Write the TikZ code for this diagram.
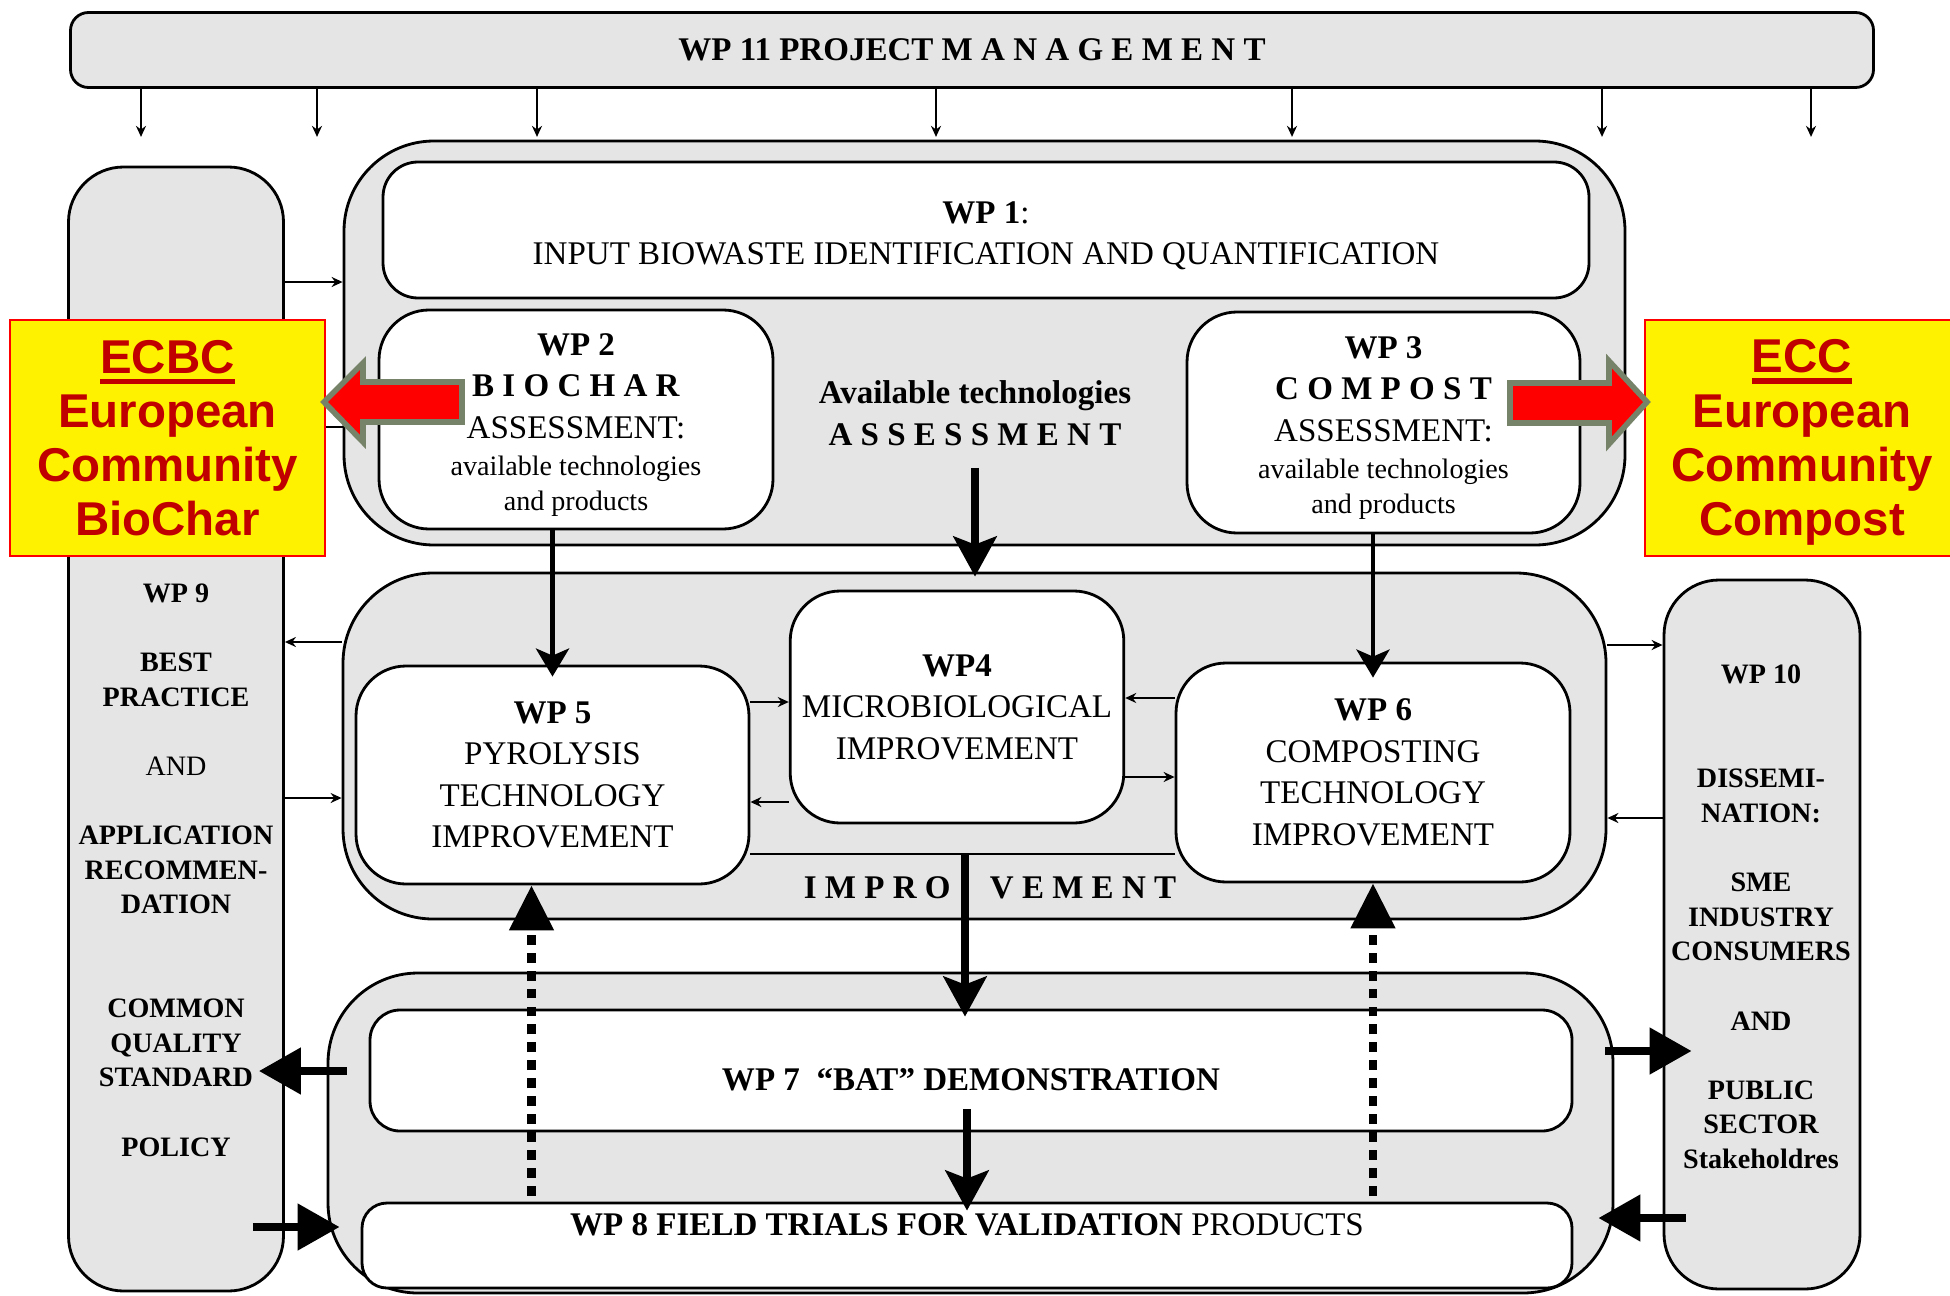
\documentclass[tikz,border=0pt]{standalone}
\usepackage{fontspec}
\setmainfont{Liberation Serif}
\newfontfamily\arialfont{Liberation Sans}
\usepackage{tikz}
\usetikzlibrary{arrows.meta}

\definecolor{boxgray}{gray}{0.9}
\definecolor{ecred}{RGB}{192,0,0}
\definecolor{arrowrim}{RGB}{118,131,104}

\newcommand{\thickul}[1]{\leavevmode\vtop{\hbox{#1}\kern1.4pt\hrule height 1.5pt}}
\newcommand{\topgap}[1]{\rule{0pt}{#1}}

\begin{document}
\begin{tikzpicture}[x=0.1mm, y=-0.1mm, font=\fontsize{9.4}{11.8}\selectfont]
        % Setup the styles for the boxes and arrows
        \tikzset{panel/.style={draw, line width=0.8pt, fill=boxgray,
                               rounded corners=9mm, inner sep=0pt},
                 column/.style={panel, rounded corners=5.5mm},
                 wpbox/.style={draw, line width=0.8pt, fill=white,
                               rounded corners=5mm, align=center},
                 coltext/.style={align=center,
                                 font=\fontsize{8}{9.85}\selectfont\bfseries},
                 ecbox/.style={draw=red, line width=0.7pt, fill=yellow,
                               text=ecred, align=center, inner sep=0pt,
                               font=\arialfont\bfseries\fontsize{13.5}{15.4}\selectfont},
                 smallarrow/.style={line width=0.6pt,
                                    -{Stealth[length=1.1mm, width=1mm]}},
                 midarrow/.style={line width=1.4pt,
                                  -{Stealth[length=2.8mm, width=3.3mm, inset=0.7mm]}},
                 bigarrow/.style={line width=2.3pt,
                                  -{Stealth[length=4mm, width=4.3mm, inset=0.8mm]}},
                 sidearrow/.style={line width=2.3pt,
                                   -{Triangle[length=4.2mm, width=4.5mm]}},
                 dotarrow/.style={line width=2.3pt, dash pattern=on 2.8pt off 2.3pt,
                                  -{Triangle[length=4.5mm, width=4.3mm]}},
                 redblock/.style={fill=red, draw=arrowrim, line width=1.6pt,
                                  line join=miter}}

        \useasboundingbox (0,0) rectangle (1950,1295);

        % Draw the management bar
        \node[panel, rounded corners=1.8mm, minimum width=180.3mm, minimum height=7.5mm]
            at (972,50) (pm) {\textbf{WP 11 PROJECT M A N A G E M E N T}};

        % Draw the side columns
        \node[column, minimum width=21.5mm, minimum height=112.4mm] at (176,729) (wpnine) {};
        \node[column, minimum width=19.6mm, minimum height=70.9mm] at (1762,934.5) (wpten) {};
        \node[coltext] at (176,870) (wpninetext) {WP 9\\[9.85pt]
            BEST\\PRACTICE\\[9.85pt]
            {\mdseries AND}\\[9.85pt]
            APPLICATION\\RECOMMEN-\\DATION\\[19.7pt]
            COMMON\\QUALITY\\STANDARD\\[9.85pt]
            POLICY};
        \node[coltext] at (1761,917) (wptentext) {WP 10\\[19.7pt]
            DISSEMI-\\NATION:\\[9.85pt]
            SME\\INDUSTRY\\CONSUMERS\\[9.85pt]
            AND\\[9.85pt]
            PUBLIC\\SECTOR\\Stakeholdres};

        % Draw the three grey panels
        \node[panel, minimum width=128.1mm, minimum height=40.4mm] at (984.5,343) (assess) {};
        \node[panel, minimum width=126.3mm, minimum height=34.6mm] at (974.5,746) (improve) {};
        \node[panel, minimum width=128.5mm, minimum height=32mm] at (970.5,1133) (demo) {};

        % Draw the work packages
        \node[wpbox, rounded corners=3.5mm, minimum width=120.6mm, minimum height=13.6mm]
            at (986,230) (wpone) {\topgap{9.6pt}\textbf{WP 1}:\\INPUT BIOWASTE IDENTIFICATION AND QUANTIFICATION};
        \node[wpbox, minimum width=39.4mm, minimum height=21.9mm] at (576,419.5) (wptwo)
            {\topgap{9.4pt}\textbf{WP 2}\\\textbf{B I O C H A R}\\ASSESSMENT:\\[-1.2pt]
             {\fontsize{8}{10}\selectfont available technologies}\\[-1.8pt]
             {\fontsize{8}{10}\selectfont and products}};
        \node[wpbox, minimum width=39.3mm, minimum height=22.1mm] at (1383.5,422.5) (wpthree)
            {\topgap{9.4pt}\textbf{WP 3}\\\textbf{C O M P O S T}\\ASSESSMENT:\\[-1.2pt]
             {\fontsize{8}{10}\selectfont available technologies}\\[-1.8pt]
             {\fontsize{8}{10}\selectfont and products}};
        \node[font=\fontsize{9.4}{11.8}\selectfont\bfseries, align=center]
            at (975,413) (asslabel) {Available technologies\\A S S E S S M E N T};
        \node[wpbox, minimum width=33mm, minimum height=23.2mm] at (957,707) (wpfour)
            {\textbf{WP4}\\MICROBIOLOGICAL\\IMPROVEMENT};
        \node[wpbox, minimum width=39.3mm, minimum height=21.8mm] at (552.5,775) (wpfive)
            {\textbf{WP 5}\\PYROLYSIS\\TECHNOLOGY\\IMPROVEMENT};
        \node[wpbox, minimum width=39.4mm, minimum height=21.9mm] at (1373,772.5) (wpsix)
            {\textbf{WP 6}\\COMPOSTING\\TECHNOLOGY\\IMPROVEMENT};
        \node[font=\fontsize{9.4}{11.8}\selectfont\bfseries] at (990,888) (implabel)
            {I M P R O\hspace{3.1mm} V E M E N T};
        \node[wpbox, rounded corners=3mm, minimum width=120.2mm, minimum height=12.1mm]
            at (971,1070.5) (wpseven) {\topgap{11.3pt}\textbf{WP 7\ \ ``BAT'' DEMONSTRATION}};
        \node[wpbox, rounded corners=2.5mm, minimum width=121mm, minimum height=8.5mm,
              inner ysep=0pt, text height=2.3mm, text depth=4.3mm]
            at (967,1245.5) (wpeight) {\textbf{WP 8 FIELD TRIALS FOR VALIDATION} PRODUCTS};

        % Connect the boxes with arrows
        \foreach \px in {141,317,537,936,1292,1602,1811}
            \draw[smallarrow] (\px,0 |- pm.south) -- ++(0,48);

        \draw[smallarrow] ([yshift=6.1mm]assess.west -| wpnine.east) -- ([yshift=6.1mm]assess.west);
        \draw[smallarrow] ([yshift=-8.4mm]assess.west) -- ([yshift=-8.4mm]assess.west -| wpnine.east);
        \draw[smallarrow] ([yshift=10.4mm]improve.west) -- ([yshift=10.4mm]improve.west -| wpnine.east);
        \draw[smallarrow] ([yshift=-5.2mm]improve.west -| wpnine.east) -- ([yshift=-5.2mm]improve.west);
        \draw[smallarrow] ([yshift=10.1mm]improve.east) -- ([yshift=10.1mm]improve.east -| wpten.west);
        \draw[smallarrow] ([yshift=-7.2mm]improve.east -| wpten.west) -- ([yshift=-7.2mm]improve.east);

        \draw[smallarrow] ([yshift=0.5mm]wpfour.west -| wpfive.east) -- ([yshift=0.5mm]wpfour.west);
        \draw[smallarrow] ([yshift=-9.5mm]wpfour.west) -- ([yshift=-9.5mm]wpfour.west -| wpfive.east);
        \draw[smallarrow] ([yshift=0.9mm]wpfour.east -| wpsix.west) -- ([yshift=0.9mm]wpfour.east);
        \draw[smallarrow] ([yshift=-7mm]wpfour.east) -- ([yshift=-7mm]wpfour.east -| wpsix.west);

        \draw[midarrow, shorten >=-1.2mm] (wpfive.north |- wptwo.south) -- (wpfive.north);
        \draw[midarrow, shorten >=-1.6mm] (wpsix.north |- wpthree.south) -- (wpsix.north);
        \draw[bigarrow, shorten <=1mm, shorten >=-0.5mm] (asslabel.south) -- (asslabel.south |- improve.north);

        \coordinate (joint) at (965,854);
        \draw[line width=0.8pt] (wpfive.east |- joint) -- (wpsix.west |- joint);
        \draw[bigarrow, shorten >=-0.8mm] (joint) -- (joint |- wpseven.north);
        \draw[bigarrow, shorten <=-2.3mm, shorten >=-0.9mm] (wpeight.north |- wpseven.south) -- (wpeight.north);

        \draw[dotarrow, shorten <=0.6mm] ([xshift=-2.1mm]wpfive.south |- wpeight.north) -- ([xshift=-2.1mm]wpfive.south);
        \draw[dotarrow, shorten <=0.6mm] (wpsix.south |- wpeight.north) -- (wpsix.south);

        \draw[sidearrow, shorten <=-2mm, shorten >=-2.6mm] ([yshift=6.2mm]demo.west) -- ([yshift=6.2mm]demo.west -| wpnine.east);
        \draw[sidearrow, shorten <=-3.2mm, shorten >=-1.3mm] ([yshift=-9.4mm]demo.west -| wpnine.east) -- ([yshift=-9.4mm]demo.west);
        \draw[sidearrow, shorten <=-0.9mm, shorten >=-2.9mm] ([yshift=8.2mm]demo.east) -- ([yshift=8.2mm]demo.east -| wpten.west);
        \draw[sidearrow, shorten <=-2.3mm, shorten >=-1.6mm] ([yshift=-8.5mm]demo.east -| wpten.west) -- ([yshift=-8.5mm]demo.east);

        % Draw the community boxes
        \node[ecbox, minimum width=31.5mm, minimum height=23.6mm] at (167.5,438) (ecbc)
            {\thickul{ECBC}\\European\\Community\\BioChar};
        \node[ecbox, minimum width=31.4mm, minimum height=23.6mm] at (1802,438) (ecc)
            {\topgap{12pt}\thickul{ECC}\\European\\Community\\Compost};

        \draw[redblock] (462,382) -- (363,382) -- (363,363) -- (324,402)
            -- (363,442) -- (363,422) -- (462,422) -- cycle;
        \draw[redblock] (1510,383) -- (1609,383) -- (1609,361) -- (1647,402)
            -- (1609,444) -- (1609,423) -- (1510,423) -- cycle;
\end{tikzpicture}
\end{document}
